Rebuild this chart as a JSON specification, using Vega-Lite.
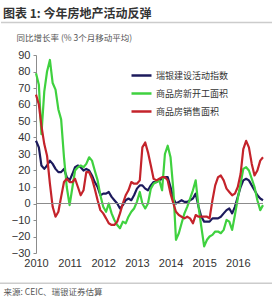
{
  "$schema": "https://vega.github.io/schema/vega-lite/v6.json",
  "autosize": {"type": "none"},
  "width": 227,
  "height": 198,
  "padding": {"left": 36, "top": 55, "right": 10, "bottom": 46},
  "background": "white",
  "config": {"view": {"stroke": null}, "font": "Liberation Sans", "axisY": {"labelOverlap": false, "labelBound": false}},
  "title": {"text": "图表 1: 今年房地产活动反弹", "anchor": "start", "frame": "group", "offset": 0, "dx": -33, "dy": 8, "baseline": "alphabetic", "font": "Noto Sans CJK SC", "fontSize": 12, "fontWeight": "bold", "color": "#333333"},
  "data": {"values": [
    {"d":"2010-01-01","a":38,"b":79,"c":66},{"d":"2010-02-01","a":34,"b":72,"c":60},{"d":"2010-03-01","a":23,"b":42,"c":47},{"d":"2010-04-01","a":21,"b":68,"c":36},{"d":"2010-05-01","a":23,"b":80,"c":29},{"d":"2010-06-01","a":26,"b":87,"c":12},{"d":"2010-07-01","a":24,"b":73,"c":-2},{"d":"2010-08-01","a":21,"b":69,"c":-8},{"d":"2010-09-01","a":19,"b":57,"c":-5},{"d":"2010-10-01","a":19,"b":51,"c":4},{"d":"2010-11-01","a":21,"b":28,"c":13},{"d":"2010-12-01","a":16,"b":10,"c":15},
    {"d":"2011-01-01","a":14,"b":-1,"c":13},{"d":"2011-02-01","a":18,"b":10,"c":13},{"d":"2011-03-01","a":22,"b":20,"c":15},{"d":"2011-04-01","a":23,"b":22,"c":10},{"d":"2011-05-01","a":22,"b":23,"c":5},{"d":"2011-06-01","a":20,"b":22,"c":8},{"d":"2011-07-01","a":21,"b":24,"c":19},{"d":"2011-08-01","a":20,"b":28,"c":19},{"d":"2011-09-01","a":17,"b":26,"c":15},{"d":"2011-10-01","a":13,"b":20,"c":9},{"d":"2011-11-01","a":10,"b":14,"c":2},{"d":"2011-12-01","a":5,"b":5,"c":-4},
    {"d":"2012-01-01","a":6,"b":-2,"c":-6},{"d":"2012-02-01","a":6,"b":-5,"c":-9},{"d":"2012-03-01","a":7,"b":0,"c":-12},{"d":"2012-04-01","a":4,"b":-6,"c":-13},{"d":"2012-05-01","a":2,"b":-10,"c":-13},{"d":"2012-06-01","a":0,"b":-13,"c":-11},{"d":"2012-07-01","a":-3,"b":-15,"c":-6},{"d":"2012-08-01","a":-1,"b":-11,"c":0},{"d":"2012-09-01","a":2,"b":-12,"c":5},{"d":"2012-10-01","a":3,"b":-8,"c":8},{"d":"2012-11-01","a":2,"b":-5,"c":13},{"d":"2012-12-01","a":5,"b":-3,"c":12},
    {"d":"2013-01-01","a":9,"b":1,"c":12},{"d":"2013-02-01","a":11,"b":7,"c":14},{"d":"2013-03-01","a":11,"b":0,"c":34},{"d":"2013-04-01","a":9,"b":-3,"c":37},{"d":"2013-05-01","a":8,"b":0,"c":31},{"d":"2013-06-01","a":11,"b":9,"c":23},{"d":"2013-07-01","a":13,"b":12,"c":15},{"d":"2013-08-01","a":13,"b":13,"c":14},{"d":"2013-09-01","a":14,"b":14,"c":15},{"d":"2013-10-01","a":15,"b":8,"c":16},{"d":"2013-11-01","a":16,"b":30,"c":16},{"d":"2013-12-01","a":16,"b":35,"c":14},
    {"d":"2014-01-01","a":10,"b":28,"c":6},{"d":"2014-02-01","a":3,"b":8,"c":0},{"d":"2014-03-01","a":0,"b":-22,"c":-5},{"d":"2014-04-01","a":1,"b":-18,"c":-7},{"d":"2014-05-01","a":2,"b":-12,"c":-8},{"d":"2014-06-01","a":1,"b":-6,"c":-9},{"d":"2014-07-01","a":1,"b":-2,"c":-8},{"d":"2014-08-01","a":2,"b":3,"c":-9},{"d":"2014-09-01","a":3,"b":8,"c":-12},{"d":"2014-10-01","a":6,"b":14,"c":-7},{"d":"2014-11-01","a":-2,"b":-2,"c":-8},{"d":"2014-12-01","a":-8,"b":-14,"c":-8},
    {"d":"2015-01-01","a":-11,"b":-26,"c":-8},{"d":"2015-02-01","a":-11,"b":-22,"c":-8},{"d":"2015-03-01","a":-11,"b":-20,"c":-9},{"d":"2015-04-01","a":-9,"b":-19,"c":2},{"d":"2015-05-01","a":-9,"b":-17,"c":11},{"d":"2015-06-01","a":-9,"b":-17,"c":16},{"d":"2015-07-01","a":-8,"b":-18,"c":17},{"d":"2015-08-01","a":-6,"b":-16,"c":14},{"d":"2015-09-01","a":-4,"b":-10,"c":9},{"d":"2015-10-01","a":-3,"b":-11,"c":7},{"d":"2015-11-01","a":-6,"b":-16,"c":5},{"d":"2015-12-01","a":-2,"b":-7,"c":6},
    {"d":"2016-01-01","a":4,"b":3,"c":10},{"d":"2016-02-01","a":10,"b":12,"c":18},{"d":"2016-03-01","a":14,"b":21,"c":33},{"d":"2016-04-01","a":15,"b":22,"c":38},{"d":"2016-05-01","a":14,"b":20,"c":34},{"d":"2016-06-01","a":11,"b":15,"c":24},{"d":"2016-07-01","a":8,"b":10,"c":17},{"d":"2016-08-01","a":5,"b":2,"c":20},{"d":"2016-09-01","a":3,"b":-4,"c":26},{"d":"2016-10-01","a":2,"b":-1,"c":28}
  ]},
  "layer": [
    {
      "transform": [
        {"fold": ["a", "b", "c"], "as": ["k", "value"]},
        {"lookup": "k", "from": {"data": {"values": [{"k": "a", "series": "瑞银建设活动指数"}, {"k": "b", "series": "商品房新开工面积"}, {"k": "c", "series": "商品房销售面积"}]}, "key": "k", "fields": ["series"]}}
      ],
      "mark": {"type": "line", "strokeWidth": 2.2, "strokeJoin": "round"},
      "encoding": {
        "x": {"field": "d", "type": "temporal",
          "scale": {"domain": ["2010-01-01", "2016-10-01"]},
          "axis": {"format": "%Y", "tickCount": {"interval": "year", "step": 1}, "domain": false, "ticks": false, "grid": false, "labelFlush": false, "labelOverlap": false, "labelFont": "Liberation Sans", "labelFontSize": 11, "labelColor": "#333333", "labelPadding": 4,
            "title": "来源: CEIC、瑞银证券估算", "titleFont": "Noto Sans CJK SC", "titleFontSize": 8.5, "titleFontWeight": "normal", "titleColor": "#555555", "titleX": -33, "titleY": 38, "titleAlign": "left", "titleBaseline": "middle", "titleAnchor": null}},
        "y": {"field": "value", "type": "quantitative",
          "scale": {"domain": [-30, 90], "nice": false, "zero": false},
          "axis": {"values": [-30, -20, -10, 0, 10, 20, 30, 40, 50, 60, 70, 80, 90], "tickCount": 13, "labelOverlap": false, "labelBound": false, "grid": false, "domainColor": "#8c8c8c", "tickColor": "#8c8c8c", "tickSize": 3, "labelPadding": 3, "labelFont": "Liberation Sans", "labelFontSize": 11, "labelColor": "#333333",
            "title": "同比增长率 (% 3个月移动平均)", "titleAngle": 0, "titleAlign": "left", "titleBaseline": "middle", "titleX": -20, "titleY": -18, "titleFont": "Noto Sans CJK SC", "titleFontSize": 8.5, "titleFontWeight": "normal", "titleColor": "#555555"}},
        "color": {"field": "series", "type": "nominal",
          "scale": {"domain": ["瑞银建设活动指数", "商品房新开工面积", "商品房销售面积"], "range": ["#1c1a5c", "#3fd13f", "#c4232b"]},
          "legend": {"title": null, "orient": "none", "legendX": 94, "legendY": 9, "symbolType": "stroke", "symbolSize": 400, "symbolStrokeWidth": 2.5, "labelFont": "Noto Sans CJK SC", "labelFontSize": 9, "labelColor": "#333333", "labelOffset": 3, "rowPadding": 1, "padding": 0}}
      }
    },
    {
      "mark": {"type": "rule", "color": "#8c8c8c", "strokeWidth": 1},
      "encoding": {"y": {"datum": 0}}
    },
    {
      "data": {"values": [{"v": 0}]},
      "mark": {"type": "rect", "color": "#cccccc", "clip": false},
      "encoding": {"x": {"value": -35}, "x2": {"value": 236}, "y": {"value": -33.3}, "y2": {"value": -31.8}}
    },
    {
      "data": {"values": [{"v": 0}]},
      "mark": {"type": "rect", "color": "#cccccc", "clip": false},
      "encoding": {"x": {"value": -36}, "x2": {"value": 236}, "y": {"value": 227.5}, "y2": {"value": 229}}
    }
  ]
}
